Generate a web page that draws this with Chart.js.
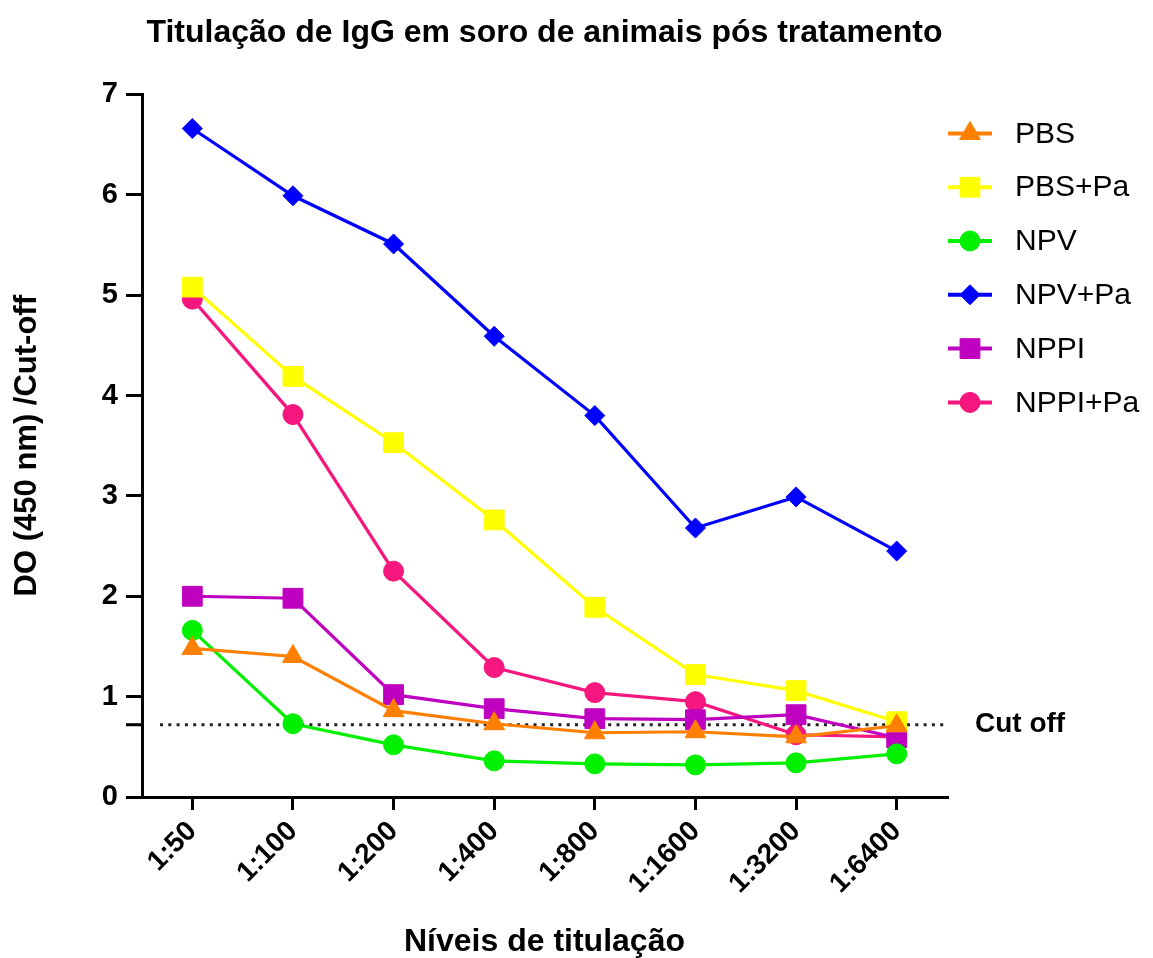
<!DOCTYPE html>
<html lang="pt">
<head>
<meta charset="UTF-8" />
<title>Titulação de IgG</title>
<script src="https://cdn.jsdelivr.net/npm/chart.js@4"></script>
<style>
  html, body { margin: 0; padding: 0; background: #fff; }
</style>
</head>
<body>
<canvas id="igg" width="1153" height="958"></canvas>
<script>
// níveis de titulação (eixo x)
const titulacoes = ["1:50", "1:100", "1:200", "1:400", "1:800", "1:1600", "1:3200", "1:6400"];

// DO (450 nm) / cut-off
const pbs     = [1.48, 1.40, 0.86, 0.73, 0.64, 0.65, 0.60, 0.71];
const pbsPa   = [5.08, 4.19, 3.53, 2.76, 1.89, 1.22, 1.06, 0.75];
const npv     = [1.66, 0.73, 0.52, 0.36, 0.33, 0.32, 0.34, 0.43];
const npvPa   = [6.66, 5.99, 5.51, 4.59, 3.80, 2.68, 2.99, 2.45];
const nppi    = [2.00, 1.98, 1.02, 0.88, 0.78, 0.77, 0.82, 0.59];
const nppiPa  = [4.96, 3.81, 2.25, 1.29, 1.04, 0.95, 0.62, 0.60];

const cutOff = 0.72;

const FONTE = "'Liberation Sans', Arial, sans-serif";
Chart.defaults.font.family = FONTE;
Chart.defaults.color = "#000";

function serie(label, data, cor, estilo, raio) {
  return {
    label: label,
    data: data,
    borderColor: cor,
    backgroundColor: cor,
    pointBackgroundColor: cor,
    pointBorderColor: cor,
    pointStyle: estilo,
    pointRadius: raio,
    pointHoverRadius: raio,
    pointBorderWidth: 1,
    borderWidth: 3.2,
    tension: 0,
    fill: false
  };
}

// linha pontilhada do cut-off + rótulo
const linhaCutOff = {
  id: "linhaCutOff",
  beforeDatasetsDraw(chart) {
    const { ctx, chartArea } = chart;
    const y = chart.scales.y.getPixelForValue(cutOff);
    ctx.save();
    ctx.strokeStyle = "#222";
    ctx.lineWidth = 3;
    ctx.setLineDash([3, 5.3]);
    ctx.beginPath();
    ctx.moveTo(chartArea.left + 18, y);
    ctx.lineTo(chartArea.right - 2, y);
    ctx.stroke();
    // pequena marca no eixo y
    ctx.setLineDash([]);
    ctx.strokeStyle = "#000";
    ctx.lineWidth = 3;
    ctx.beginPath();
    ctx.moveTo(chartArea.left - 16, y);
    ctx.lineTo(chartArea.left, y);
    ctx.stroke();
    ctx.fillStyle = "#000";
    ctx.font = "bold 28px " + FONTE;
    ctx.textBaseline = "middle";
    ctx.textAlign = "left";
    ctx.fillText("Cut off", chartArea.right + 28, y);
    ctx.restore();
  }
};

// legenda lateral no estilo do Prism (linha + marcador)
const legendaLateral = {
  id: "legendaLateral",
  afterDraw(chart) {
    const { ctx, chartArea } = chart;
    const x0 = chartArea.right + 1;
    chart.data.datasets.forEach((ds, i) => {
      const y = chartArea.top + 39 + i * 53.8;
      ctx.save();
      ctx.strokeStyle = ds.borderColor;
      ctx.fillStyle = ds.backgroundColor;
      ctx.lineWidth = 4;
      ctx.beginPath();
      ctx.moveTo(x0, y);
      ctx.lineTo(x0 + 44, y);
      ctx.stroke();
      ctx.lineWidth = 1;
      if (Chart.helpers && Chart.helpers.drawPoint) {
        Chart.helpers.drawPoint(ctx, { pointStyle: ds.pointStyle, radius: ds.pointRadius, borderWidth: 1, rotation: 0 }, x0 + 22, y);
      } else {
        ctx.beginPath();
        ctx.arc(x0 + 22, y, 10, 0, Math.PI * 2);
        ctx.fill();
      }
      ctx.fillStyle = "#000";
      ctx.font = "30px " + FONTE;
      ctx.textBaseline = "middle";
      ctx.textAlign = "left";
      ctx.fillText(ds.label, x0 + 67, y + 1);
      ctx.restore();
    });
  }
};

const ctx = document.getElementById("igg").getContext("2d");
const grafico = new Chart(ctx, {
  type: "line",
  data: {
    labels: titulacoes,
    datasets: [
      serie("PBS", pbs, "#FF8000", "triangle", 12),
      serie("PBS+Pa", pbsPa, "#FFFF00", "rect", 14),
      serie("NPV", npv, "#00F000", "circle", 10),
      serie("NPV+Pa", npvPa, "#0000FF", "rectRot", 10),
      serie("NPPI", nppi, "#C000C0", "rect", 14),
      serie("NPPI+Pa", nppiPa, "#F5177D", "circle", 10)
    ]
  },
  plugins: [linhaCutOff, legendaLateral],
  options: {
    responsive: false,
    animation: false,
    layout: { padding: { left: 0, right: 206, top: 0, bottom: 0 } },
    plugins: {
      legend: { display: false },
      tooltip: { enabled: false },
      title: {
        display: true,
        fullSize: false,
        text: "Titulação de IgG em soro de animais pós tratamento",
        color: "#000",
        font: { size: 32, weight: "bold" },
        padding: { top: 14, bottom: 42 }
      }
    },
    scales: {
      x: {
        offset: true,
        border: { display: true, color: "#000", width: 3 },
        grid: {
          drawOnChartArea: false,
          drawTicks: true,
          offset: false,
          tickLength: 13,
          lineWidth: 3,
          tickWidth: 3,
          tickColor: "#000"
        },
        ticks: {
          color: "#000",
          autoSkip: false,
          maxRotation: 45,
          minRotation: 45,
          padding: 5,
          font: { size: 28, weight: "bold" }
        },
        title: {
          display: true,
          text: "Níveis de titulação",
          color: "#000",
          font: { size: 32, weight: "bold", lineHeight: 1 },
          padding: 0
        },
        afterFit: (s) => { s.height = 161; }
      },
      y: {
        min: 0,
        max: 7,
        border: { display: true, color: "#000", width: 3 },
        grid: {
          drawOnChartArea: false,
          drawTicks: true,
          tickLength: 16,
          lineWidth: 3,
          tickWidth: 3,
          tickColor: "#000"
        },
        ticks: {
          stepSize: 1,
          color: "#000",
          padding: 8,
          font: { size: 29, weight: "bold" }
        },
        title: {
          display: true,
          text: "DO (450 nm) /Cut-off",
          color: "#000",
          font: { size: 31, weight: "bold" },
          padding: { top: 9, bottom: 0 }
        },
        afterFit: (s) => { s.width = 142; }
      }
    }
  }
});
</script>
</body>
</html>
